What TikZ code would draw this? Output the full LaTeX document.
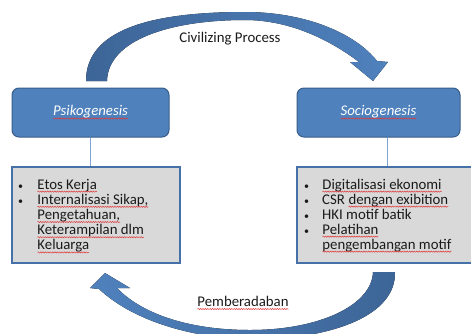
\documentclass[tikz,border=0pt]{standalone}
\usepackage{fontspec}
\setmainfont{Carlito}
\usetikzlibrary{decorations.pathmorphing}
\definecolor{boxblue}{HTML}{4F81BD}
\definecolor{boxedge}{HTML}{385D8A}
\definecolor{grayfill}{HTML}{D9D9D9}
\definecolor{grayedge}{HTML}{4570A8}
\definecolor{darkarrow}{HTML}{3D6597}
\definecolor{lightarrow}{HTML}{4F81BD}
\definecolor{connblue}{HTML}{7EA3D0}
\definecolor{wavered}{HTML}{E03A3A}
\definecolor{txt}{HTML}{1A1A1A}
\newcommand\spl[1]{\tikz[baseline=(splw.base)]{\node[inner sep=0pt, outer sep=0pt, minimum width=0pt, minimum height=0pt, anchor=base, draw=none, fill=none, rectangle] (splw) {#1};
  \draw[wavered, line width=0.5pt, rounded corners=0pt, decorate, decoration={snake, amplitude=0.6pt, segment length=2.4pt}] ([yshift=-2.6pt]splw.base west) -- ([yshift=-2.6pt]splw.base east);}}
\newcommand\blt{{\fontsize{10}{10}\selectfont\textbullet}}
\tikzset{
  bluebox/.style={draw=boxedge, line width=1pt, fill=boxblue, rounded corners=7pt, text=white, font={\fontsize{14.8}{15.2}\selectfont\itshape}},
  graybox/.style={draw=grayedge, line width=1.2pt, fill=grayfill},
  conn/.style={draw=connblue, line width=1pt},
  listtext/.style={inner sep=0pt, anchor=base west, text=txt, font={\fontsize{14.8}{15.2}\selectfont}},
  lbl/.style={inner sep=0pt, text=txt, font={\fontsize{14.8}{15.2}\selectfont}}
}
\begin{document}
\begin{tikzpicture}[x=1pt, y=-1pt]
\useasboundingbox (0,0) rectangle (471,333);
\clip (0,0) rectangle (471,333);
% top curved arrow
\fill[left color=darkarrow, middle color=darkarrow!75!lightarrow, right color=lightarrow]
  (86,81) .. controls (86,30) and (150,12) .. (245,12)
  .. controls (305,12) and (355,33) .. (377,61)
  -- (388,62) -- (373,81) -- (350,62) -- (359,62)
  .. controls (330,40) and (290,20) .. (245,20)
  .. controls (170,20) and (108,40) .. (107,81) -- cycle;
% bottom curved arrow
\fill[left color=lightarrow, middle color=lightarrow!60!darkarrow, right color=darkarrow]
  (105,273) -- (130,288) -- (117,288)
  .. controls (140,312) and (185,330) .. (250,330)
  .. controls (320,330) and (372,305) .. (373,272)
  -- (395,272)
  .. controls (396,315) and (335,338) .. (255,340)
  .. controls (185,338) and (130,318) .. (99,289)
  -- (90,288) -- cycle;
% boxes
\node[bluebox, minimum width=157pt, minimum height=49pt] (psi) at (90.5,112.5) {\spl{Psikogenesis}};
\node[bluebox, minimum width=163pt, minimum height=49pt] (soc) at (378.5,112.5) {\spl{Sociogenesis}};
\node[graybox, minimum width=168pt, minimum height=96pt] (lg) at (96,215) {};
\node[graybox, minimum width=180pt, minimum height=96pt] (rg) at (387,215) {};
\draw[conn] (psi.south) -- (psi.south |- lg.north);
\draw[conn] (rg.north |- soc.south) -- (rg.north);
% left list
\node[listtext] (lb1) at (18,189) {\blt};
\node[listtext] (lb2) at (18,204.2) {\blt};
\node[listtext] (l1) at (37,189) {\spl{Etos Kerja}};
\node[listtext] (l2) at (37,204.2) {\spl{Internalisasi Sikap,}};
\node[listtext] (l3) at (37,219.4) {\spl{Pengetahuan,}};
\node[listtext] (l4) at (37,234.6) {\spl{Keterampilan dlm}};
\node[listtext] (l5) at (37,249.8) {\spl{Keluarga}};
% right list
\node[listtext] (rb1) at (304,189) {\blt};
\node[listtext] (rb2) at (304,204) {\blt};
\node[listtext] (rb3) at (304,219) {\blt};
\node[listtext] (rb4) at (304,234) {\blt};
\node[listtext] (r1) at (322,189) {\spl{Digitalisasi ekonomi}};
\node[listtext] (r2) at (322,204) {CSR \spl{dengan exibition}};
\node[listtext] (r3) at (322,219) {HKI motif batik};
\node[listtext] (r4) at (322,234) {\spl{Pelatihan}};
\node[listtext] (r5) at (322,249) {\spl{pengembangan motif}};
% labels
\node[lbl] (civ) at (230,39) {Civilizing Process};
\node[lbl] (pem) at (243,303) {\spl{Pemberadaban}};
\end{tikzpicture}
\end{document}
